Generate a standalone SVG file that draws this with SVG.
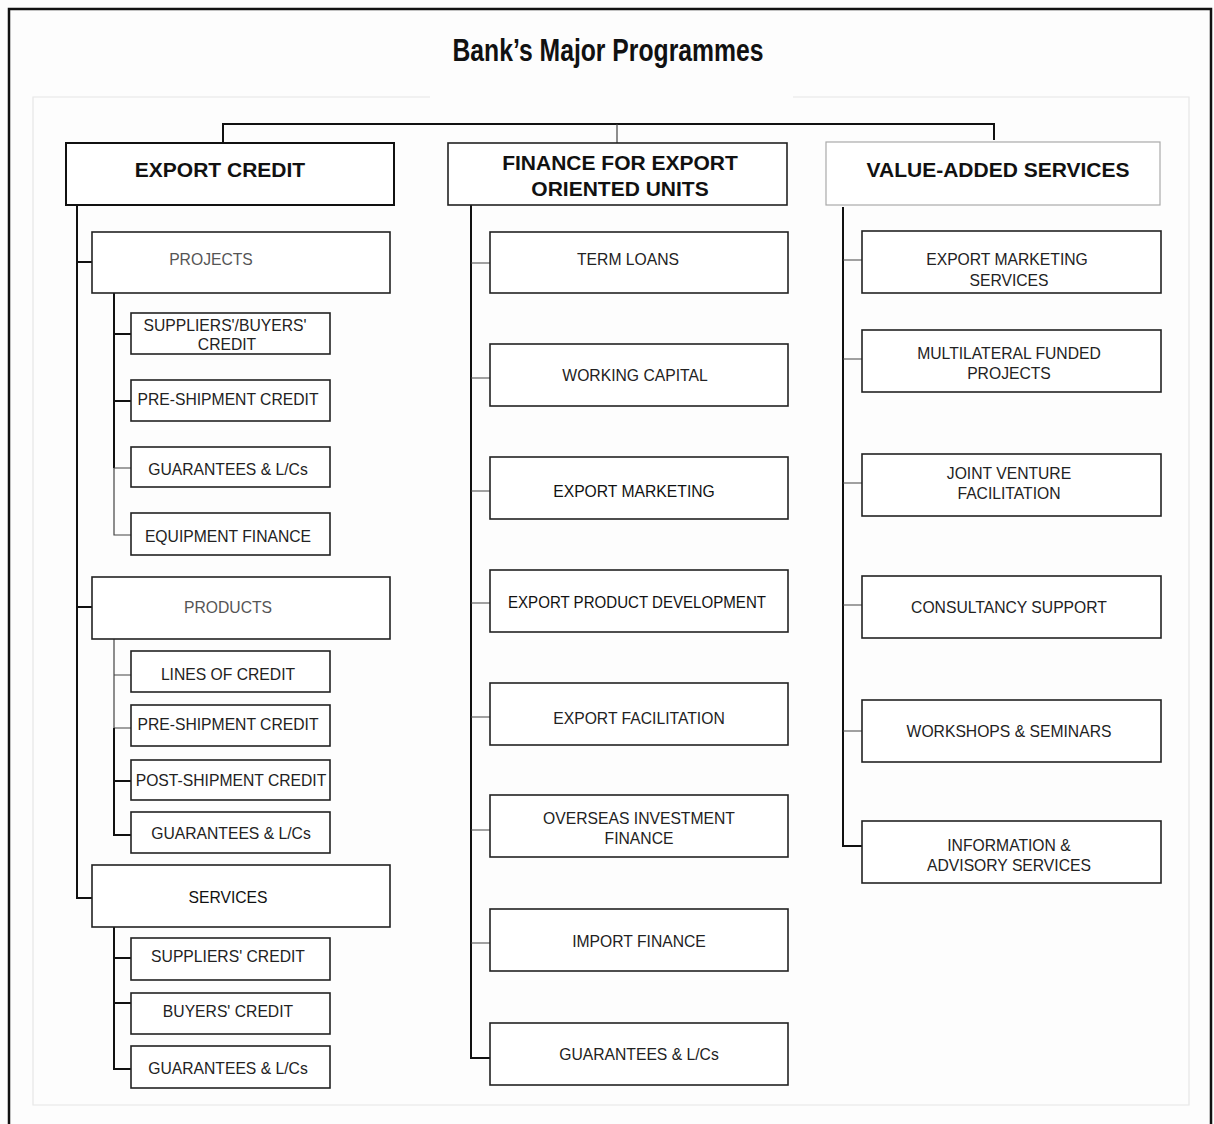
<svg xmlns="http://www.w3.org/2000/svg" width="1214" height="1124" viewBox="0 0 1214 1124">
<style>
text{font-family:"Liberation Sans",Arial,sans-serif;fill:#222;text-anchor:middle}
.t{font-size:15.7px}
.g{font-size:15.7px;fill:#555}
.h{font-size:21px;font-weight:bold;fill:#111}
.b{fill:#fff;stroke:#222;stroke-width:1.6}
.bh{fill:#fff;stroke:#111;stroke-width:2}
.bl{fill:#fff;stroke:#aaa;stroke-width:1.2}
.c{fill:none;stroke:#111;stroke-width:2}
.c1{fill:none;stroke:#444;stroke-width:1.2}
</style>
<rect x="0" y="0" width="1214" height="1124" fill="#fdfdfd"/>
<path d="M9 1124V9H1211V1124" fill="none" stroke="#111" stroke-width="2.5"/>
<path d="M430 97H33V1105H1189V97H793" fill="none" stroke="#e6e6e6" stroke-width="1.2"/>
<text x="608" y="61" textLength="311" lengthAdjust="spacingAndGlyphs" style="font-size:32px;font-weight:bold;fill:#111">Bank’s Major Programmes</text>

<g id="connectors">
<path class="c" d="M223 143V124H994V140"/>
<path class="c1" d="M617 124V143"/>
<path class="c" d="M77 205V898H92"/>
<path class="c" d="M77 262H92M77 607H92"/>
<path class="c" d="M114 293V468"/>
<path class="c1" d="M114 468V535H131M114 468H131"/>
<path class="c" d="M114 334H131M114 401H131"/>
<path class="c1" d="M114 639V728M114 675H131M114 728H131"/>
<path class="c" d="M114 728V835H131M114 781H131"/>
<path class="c" d="M114 927V1069H131M114 958H131M114 1003H131"/>
<path class="c" d="M471 205V1058H490"/>
<path class="c1" d="M471 263H490M471 378H490M471 491H490M471 603H490M471 717H490M471 830H490M471 943H490"/>
<path class="c" d="M843 207V846H862"/>
<path class="c1" d="M843 260H862M843 359H862M843 483H862M843 605H862M843 731H862"/>
</g>

<g id="export-credit"><rect class="bh" x="66" y="143" width="328" height="62"/><text class="h" x="220" y="177">EXPORT CREDIT</text></g>
<g id="finance-eou"><rect class="b" x="448" y="143" width="339" height="62"/><text class="h" x="620" y="170">FINANCE FOR EXPORT</text><text class="h" x="620" y="196">ORIENTED UNITS</text></g>
<g id="value-added"><rect class="bl" x="826" y="142" width="334" height="63"/><text class="h" x="998" y="177">VALUE-ADDED SERVICES</text></g>

<g id="projects"><rect class="b" x="92" y="232" width="298" height="61"/><text class="g" x="211" y="265">PROJECTS</text></g>
<g id="suppliers-buyers-credit"><rect class="b" x="131" y="313" width="199" height="41"/><text class="t" x="225" y="331">SUPPLIERS'/BUYERS'</text><text class="t" x="227" y="350">CREDIT</text></g>
<g id="pre-shipment-1"><rect class="b" x="131" y="380" width="199" height="41"/><text class="t" x="228" y="405">PRE-SHIPMENT CREDIT</text></g>
<g id="guarantees-1"><rect class="b" x="131" y="447" width="199" height="40"/><text class="t" x="228" y="475">GUARANTEES &amp; L/Cs</text></g>
<g id="equipment-finance"><rect class="b" x="131" y="513" width="199" height="42"/><text class="t" x="228" y="542">EQUIPMENT FINANCE</text></g>

<g id="products"><rect class="b" x="92" y="577" width="298" height="62"/><text class="g" x="228" y="613">PRODUCTS</text></g>
<g id="lines-of-credit"><rect class="b" x="131" y="651" width="199" height="41"/><text class="t" x="228" y="680">LINES OF CREDIT</text></g>
<g id="pre-shipment-2"><rect class="b" x="131" y="705" width="199" height="41"/><text class="t" x="228" y="730">PRE-SHIPMENT CREDIT</text></g>
<g id="post-shipment"><rect class="b" x="131" y="760" width="199" height="40"/><text class="t" x="231" y="786">POST-SHIPMENT CREDIT</text></g>
<g id="guarantees-2"><rect class="b" x="131" y="812" width="199" height="41"/><text class="t" x="231" y="839">GUARANTEES &amp; L/Cs</text></g>

<g id="services"><rect class="b" x="92" y="865" width="298" height="62"/><text class="t" x="228" y="903" style="fill:#111">SERVICES</text></g>
<g id="suppliers-credit"><rect class="b" x="131" y="938" width="199" height="42"/><text class="t" x="228" y="962">SUPPLIERS' CREDIT</text></g>
<g id="buyers-credit"><rect class="b" x="131" y="993" width="199" height="41"/><text class="t" x="228" y="1017">BUYERS' CREDIT</text></g>
<g id="guarantees-3"><rect class="b" x="131" y="1046" width="199" height="42"/><text class="t" x="228" y="1074">GUARANTEES &amp; L/Cs</text></g>

<g id="term-loans"><rect class="b" x="490" y="232" width="298" height="61"/><text class="t" x="628" y="265">TERM LOANS</text></g>
<g id="working-capital"><rect class="b" x="490" y="344" width="298" height="62"/><text class="t" x="635" y="381">WORKING CAPITAL</text></g>
<g id="export-marketing"><rect class="b" x="490" y="457" width="298" height="62"/><text class="t" x="634" y="497" style="fill:#111">EXPORT MARKETING</text></g>
<g id="export-product-development"><rect class="b" x="490" y="570" width="298" height="62"/><text class="t" x="637" y="608" textLength="258" lengthAdjust="spacingAndGlyphs" style="fill:#111">EXPORT PRODUCT DEVELOPMENT</text></g>
<g id="export-facilitation"><rect class="b" x="490" y="683" width="298" height="62"/><text class="t" x="639" y="724">EXPORT FACILITATION</text></g>
<g id="overseas-investment"><rect class="b" x="490" y="795" width="298" height="62"/><text class="t" x="639" y="824">OVERSEAS INVESTMENT</text><text class="t" x="639" y="844">FINANCE</text></g>
<g id="import-finance"><rect class="b" x="490" y="909" width="298" height="62"/><text class="t" x="639" y="947">IMPORT FINANCE</text></g>
<g id="guarantees-4"><rect class="b" x="490" y="1023" width="298" height="62"/><text class="t" x="639" y="1060">GUARANTEES &amp; L/Cs</text></g>

<g id="export-marketing-services"><rect class="b" x="862" y="231" width="299" height="62"/><text class="t" x="1007" y="265">EXPORT MARKETING</text><text class="t" x="1009" y="286">SERVICES</text></g>
<g id="multilateral"><rect class="b" x="862" y="330" width="299" height="62"/><text class="t" x="1009" y="359">MULTILATERAL FUNDED</text><text class="t" x="1009" y="379">PROJECTS</text></g>
<g id="joint-venture"><rect class="b" x="862" y="454" width="299" height="62"/><text class="t" x="1009" y="479">JOINT VENTURE</text><text class="t" x="1009" y="499">FACILITATION</text></g>
<g id="consultancy"><rect class="b" x="862" y="576" width="299" height="62"/><text class="t" x="1009" y="613">CONSULTANCY SUPPORT</text></g>
<g id="workshops"><rect class="b" x="862" y="700" width="299" height="62"/><text class="t" x="1009" y="737">WORKSHOPS &amp; SEMINARS</text></g>
<g id="information-advisory"><rect class="b" x="862" y="821" width="299" height="62"/><text class="t" x="1009" y="851">INFORMATION &amp;</text><text class="t" x="1009" y="871">ADVISORY SERVICES</text></g>
</svg>
